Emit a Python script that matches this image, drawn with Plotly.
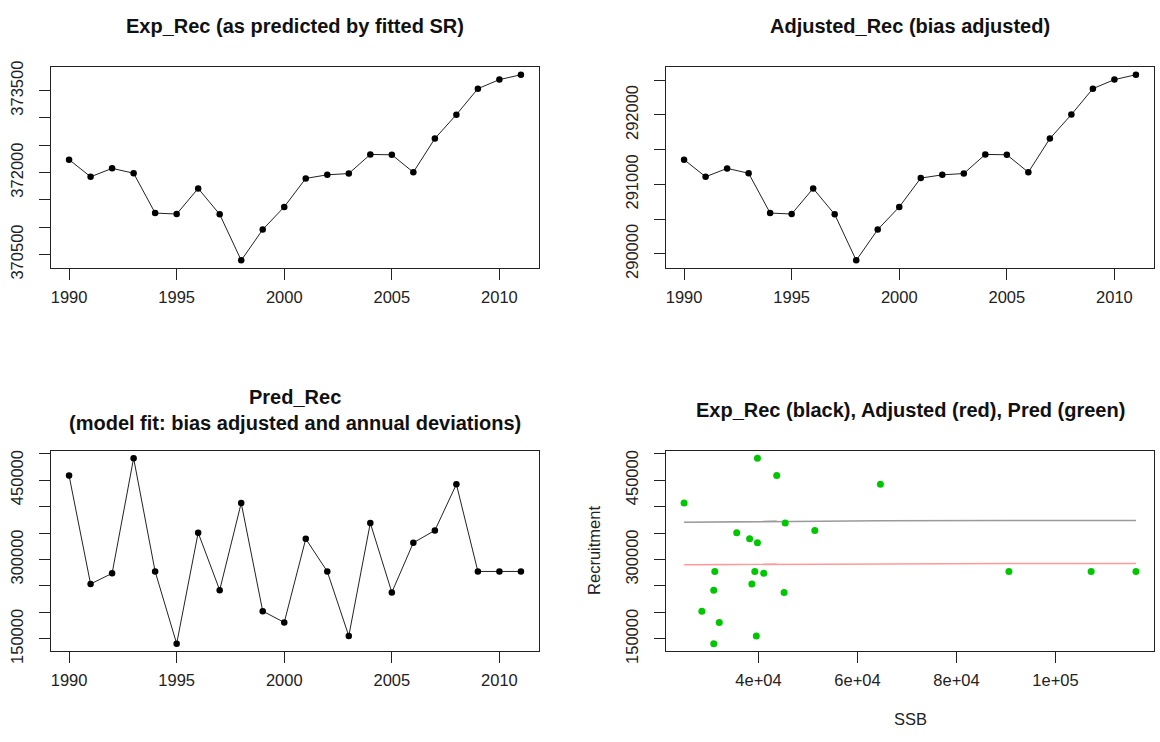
import plotly.graph_objects as go

# years of the series
years = list(range(1990, 2012))

# Exp_Rec (as predicted by fitted SR)
exp_rec = [372237, 371923, 372077, 371988, 371259, 371241, 371710, 371235, 370393, 370957, 371372,
           371893, 371959, 371982, 372332, 372326, 372006, 372623, 373061, 373536, 373702, 373791]

# Adjusted_Rec (bias adjusted)
adj_rec = [291357, 291110, 291231, 291161, 290588, 290574, 290942, 290569, 289907, 290350, 290676,
           291091, 291138, 291157, 291432, 291427, 291175, 291660, 292006, 292379, 292509, 292579]

# Pred_Rec (model fit)
pred_rec = [458500, 253700, 273800, 491500, 277400, 140850, 350600, 242100, 406700, 202400, 181100,
            339000, 277400, 155500, 368900, 237800, 331700, 354900, 442100, 277400, 277400, 277400]

# SSB for each year
ssb = [43670, 38650, 41050, 39780, 31170, 30950, 35590, 30950, 24960, 28550, 32070,
       38200, 39250, 39550, 45390, 45160, 39780, 51370, 64620, 90580, 107190, 116240]

# tick values / labels (R drops the labels that would overlap)
year_ticks = [1990, 1995, 2000, 2005, 2010]
exp_ticks = [370500, 371000, 371500, 372000, 372500, 373000, 373500]
exp_labels = ['370500', '', '', '372000', '', '', '373500']
adj_ticks = [290000, 290500, 291000, 291500, 292000, 292500]
adj_labels = ['290000', '', '291000', '', '292000', '']
rec_ticks = [150000, 200000, 250000, 300000, 350000, 400000, 450000, 500000]
rec_labels = ['150000', '', '', '300000', '', '', '450000', '']
ssb_ticks = [40000, 60000, 80000, 100000]
ssb_labels = ['4e+04', '6e+04', '8e+04', '1e+05']

W, H = 1160, 742
FONT = 'Liberation Sans, Arial, sans-serif'


def r_range(vals):
    # R's default 4% axis extension
    lo, hi = min(vals), max(vals)
    pad = (hi - lo) * 0.04
    return [lo - pad, hi + pad]


def px_x(a, b):
    return [a / W, b / W]


def px_y(top, bottom):
    return [1 - bottom / H, 1 - top / H]


def axis(domain, rng, tickvals, ticktext, anchor, is_y=False):
    d = dict(domain=domain, range=rng, tickvals=tickvals, ticktext=ticktext, anchor=anchor,
             showline=True, mirror=True, linecolor='#222', linewidth=1,
             ticks='outside', ticklen=11, tickwidth=1, tickcolor='#222',
             showgrid=False, zeroline=False,
             tickfont=dict(family=FONT, size=16.5, color='#222'))
    if is_y:
        d['tickangle'] = -90
        d['ticklabelstandoff'] = 9
    else:
        d['ticklabelstandoff'] = 3
    return d


fig = go.Figure()

line_style = dict(color='#222', width=1)
marker_style = dict(color='black', size=6.5)

fig.add_trace(go.Scatter(x=years, y=exp_rec, mode='lines+markers', line=line_style,
                         marker=marker_style, xaxis='x', yaxis='y'))
fig.add_trace(go.Scatter(x=years, y=adj_rec, mode='lines+markers', line=line_style,
                         marker=marker_style, xaxis='x2', yaxis='y2'))
fig.add_trace(go.Scatter(x=years, y=pred_rec, mode='lines+markers', line=line_style,
                         marker=marker_style, xaxis='x3', yaxis='y3'))

# SR panel: lines drawn in year order, like R's lines()
fig.add_trace(go.Scatter(x=ssb, y=exp_rec, mode='lines', line=dict(color='#9a9a9a', width=1.5),
                         xaxis='x4', yaxis='y4'))
fig.add_trace(go.Scatter(x=ssb, y=adj_rec, mode='lines', line=dict(color='#ff9a9a', width=1.5),
                         xaxis='x4', yaxis='y4'))
fig.add_trace(go.Scatter(x=ssb, y=pred_rec, mode='markers', marker=dict(color='#00c800', size=7),
                         xaxis='x4', yaxis='y4'))

left_x = px_x(51, 539)
right_x = px_x(666, 1154)
top_y = px_y(62, 268)
bot_y = px_y(456, 662)

yr_rng = r_range(years)
rec_rng = r_range(pred_rec + exp_rec + adj_rec)

fig.update_layout(
    width=W, height=H,
    margin=dict(l=0, r=0, t=0, b=0),
    paper_bgcolor='white', plot_bgcolor='white',
    showlegend=False,
    xaxis=axis(left_x, yr_rng, year_ticks, [str(v) for v in year_ticks], 'y'),
    yaxis=axis(top_y, r_range(exp_rec), exp_ticks, exp_labels, 'x', True),
    xaxis2=axis(right_x, yr_rng, year_ticks, [str(v) for v in year_ticks], 'y2'),
    yaxis2=axis(top_y, r_range(adj_rec), adj_ticks, adj_labels, 'x2', True),
    xaxis3=axis(left_x, yr_rng, year_ticks, [str(v) for v in year_ticks], 'y3'),
    yaxis3=axis(bot_y, r_range(pred_rec), rec_ticks, rec_labels, 'x3', True),
    xaxis4=axis(right_x, r_range(ssb), ssb_ticks, ssb_labels, 'y4'),
    yaxis4=axis(bot_y, rec_rng, rec_ticks, rec_labels, 'x4', True),
)

title_font = dict(family=FONT, size=20, color='#111')
label_font = dict(family=FONT, size=16.5, color='#222')


def add_text(text, x, y, font, angle=0):
    fig.add_annotation(text=text, x=x / W, y=1 - y / H, xref='paper', yref='paper',
                       showarrow=False, xanchor='center', yanchor='middle',
                       font=font, textangle=angle)


add_text('<b>Exp_Rec (as predicted by fitted SR)</b>', 295, 20, title_font)
add_text('<b>Adjusted_Rec (bias adjusted)</b>', 910, 20, title_font)
add_text('<b>Pred_Rec</b><br><b>(model fit: bias adjusted and annual deviations)</b>', 295, 414, title_font)
add_text('<b>Exp_Rec (black), Adjusted (red), Pred (green)</b>', 910, 414, title_font)
add_text('SSB', 910, 732, label_font)
add_text('Recruitment', 594, 559, label_font, angle=-90)

# drop the default body margin so the figure sits at the page corner
fig.write_html("out.html", config={'displayModeBar': False},
               post_script="document.body.style.margin='0';document.documentElement.style.overflow='hidden';document.body.style.overflow='hidden';")
